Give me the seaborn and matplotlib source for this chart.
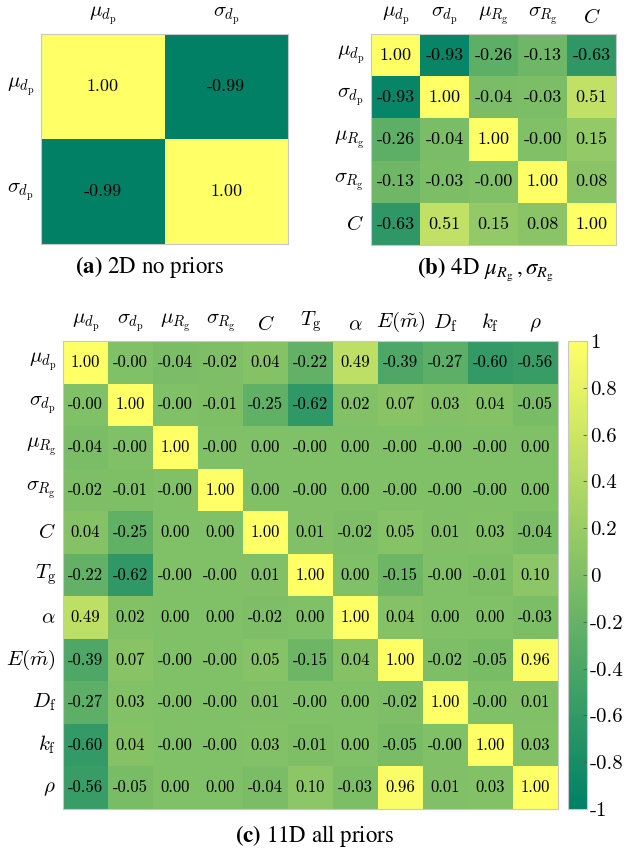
import numpy as np
import pandas as pd
import matplotlib
matplotlib.use("Agg")
import matplotlib.pyplot as plt
import seaborn as sns

plt.rcParams["mathtext.fontset"] = "cm"
plt.rcParams["axes.formatter.use_mathtext"] = True
plt.rcParams["axes.unicode_minus"] = False

# parameter names (as math labels)
labels_2d = [r"$\mu_{d_\mathrm{p}}$", r"$\sigma_{d_\mathrm{p}}$"]
labels_4d = [r"$\mu_{d_\mathrm{p}}$", r"$\sigma_{d_\mathrm{p}}$", r"$\mu_{R_\mathrm{g}}$",
             r"$\sigma_{R_\mathrm{g}}$", r"$C$"]
labels_11d = [r"$\mu_{d_\mathrm{p}}$", r"$\sigma_{d_\mathrm{p}}$", r"$\mu_{R_\mathrm{g}}$",
              r"$\sigma_{R_\mathrm{g}}$", r"$C$", r"$T_\mathrm{g}$", r"$\alpha$",
              r"$E(\tilde{m})$", r"$D_\mathrm{f}$", r"$k_\mathrm{f}$", r"$\rho$"]

# correlation matrices
corr_2d = [
    [1.00, -0.99],
    [-0.99, 1.00],
]
corr_4d = [
    [1.00, -0.93, -0.26, -0.13, -0.63],
    [-0.93, 1.00, -0.04, -0.03, 0.51],
    [-0.26, -0.04, 1.00, -0.0, 0.15],
    [-0.13, -0.03, -0.0, 1.00, 0.08],
    [-0.63, 0.51, 0.15, 0.08, 1.00],
]
corr_11d = [
    [1.00, -0.0, -0.04, -0.02, 0.04, -0.22, 0.49, -0.39, -0.27, -0.60, -0.56],
    [-0.0, 1.00, -0.0, -0.01, -0.25, -0.62, 0.02, 0.07, 0.03, 0.04, -0.05],
    [-0.04, -0.0, 1.00, -0.0, 0.00, -0.0, 0.00, -0.0, -0.0, -0.0, 0.00],
    [-0.02, -0.01, -0.0, 1.00, 0.00, -0.0, 0.00, -0.0, -0.0, -0.0, 0.00],
    [0.04, -0.25, 0.00, 0.00, 1.00, 0.01, -0.02, 0.05, 0.01, 0.03, -0.04],
    [-0.22, -0.62, -0.0, -0.0, 0.01, 1.00, 0.00, -0.15, -0.0, -0.01, 0.10],
    [0.49, 0.02, 0.00, 0.00, -0.02, 0.00, 1.00, 0.04, 0.00, 0.00, -0.03],
    [-0.39, 0.07, -0.0, -0.0, 0.05, -0.15, 0.04, 1.00, -0.02, -0.05, 0.96],
    [-0.27, 0.03, -0.0, -0.0, 0.01, -0.0, 0.00, -0.02, 1.00, -0.0, 0.01],
    [-0.60, 0.04, -0.0, -0.0, 0.03, -0.01, 0.00, -0.05, -0.0, 1.00, 0.03],
    [-0.56, -0.05, 0.00, 0.00, -0.04, 0.10, -0.03, 0.96, 0.01, 0.03, 1.00],
]
cbar_ticks = [1, 0.8, 0.6, 0.4, 0.2, 0, -0.2, -0.4, -0.6, -0.8, -1]
cbar_ticklabels = ["1", "0.8", "0.6", "0.4", "0.2", "0", "-0.2", "-0.4", "-0.6", "-0.8", "-1"]

W, H = 624, 848
fig = plt.figure(figsize=(W / 100, H / 100), dpi=100)


def px_axes(left, top, right, bottom):
    return fig.add_axes([left / W, 1 - bottom / H, (right - left) / W, (bottom - top) / H])


def draw(ax, data, labels, annot_size, tick_size, cbar_ax=None):
    df = pd.DataFrame(data, index=labels, columns=labels)
    sns.heatmap(df, ax=ax, cmap="summer", vmin=-1, vmax=1, annot=True, fmt=".2f",
                annot_kws={"fontsize": annot_size, "family": "cmr10", "color": "black"},
                cbar=cbar_ax is not None, cbar_ax=cbar_ax,
                cbar_kws={"ticks": cbar_ticks} if cbar_ax is not None else None,
                square=False)
    ax.xaxis.tick_top()
    ax.tick_params(length=0, labelsize=tick_size, pad=5)
    ax.set_yticklabels(ax.get_yticklabels(), rotation=0)
    ax.set_xticklabels(ax.get_xticklabels(), rotation=0)
    for s in ax.spines.values():
        s.set_visible(True)
        s.set_color("#c8c8c8")
        s.set_linewidth(0.8)


ax_a = px_axes(41, 34, 288, 244)
draw(ax_a, corr_2d, labels_2d, 13, 15)

ax_b = px_axes(371, 34, 616, 245)
draw(ax_b, corr_4d, labels_4d, 13, 15)

ax_c = px_axes(63, 341, 558, 809)
cax = px_axes(568, 341, 587, 809)
draw(ax_c, corr_11d, labels_11d, 12, 15, cbar_ax=cax)
cbar = ax_c.collections[0].colorbar
cbar.set_ticks(cbar_ticks, labels=cbar_ticklabels)
for t in cax.get_yticklabels():
    t.set_family("cmr10")
    t.set_fontsize(15)
cax.tick_params(length=3, width=0.6, color="#555555", direction="in", pad=2)
cbar.outline.set_edgecolor("#c8c8c8")
cbar.outline.set_linewidth(0.8)

cap_kw = dict(ha="center", va="center", fontsize=16.5, family="STIXGeneral", math_fontfamily="stix")
fig.text(150 / W, 1 - 267 / H, r"$\mathbf{(a)}$ 2D no priors", **cap_kw)
fig.text(485 / W, 1 - 269 / H, r"$\mathbf{(b)}$ 4D $\mu_{R_\mathrm{g}}\,, \sigma_{R_\mathrm{g}}$", **cap_kw)
fig.text(315 / W, 1 - 836 / H, r"$\mathbf{(c)}$ 11D all priors", **cap_kw)

fig.savefig("out.png", dpi=100)
